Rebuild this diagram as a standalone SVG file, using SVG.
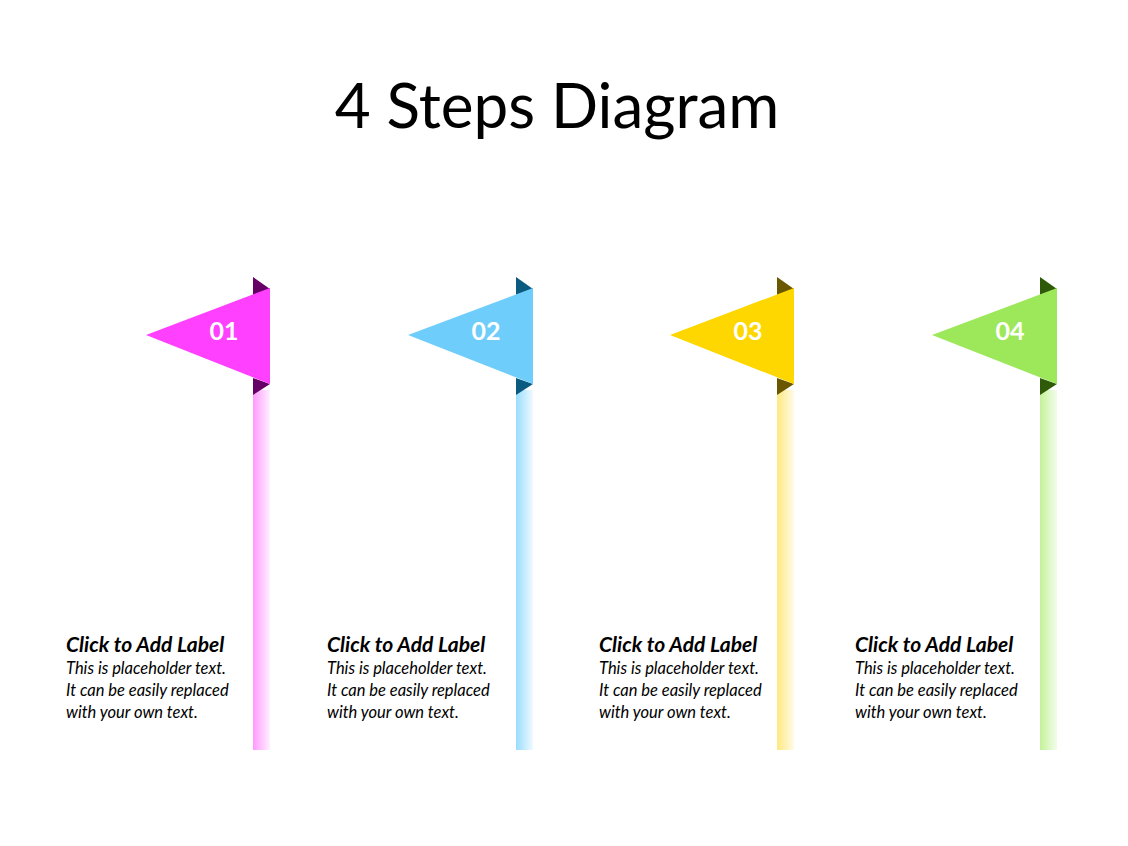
<svg xmlns="http://www.w3.org/2000/svg" width="1128" height="846" viewBox="0 0 1128 846">
<style>
.t{font-family:Lato,"Open Sans","Liberation Sans",sans-serif;fill:#000}
.h{font-size:21px;font-weight:bold;font-style:italic}
.b{font-size:16.5px;font-style:italic}
.n{font-family:Lato,"Open Sans","Liberation Sans",sans-serif;font-size:25px;font-weight:bold;fill:#fff;text-anchor:middle}
</style>
<defs>
<linearGradient id="g1"><stop offset="0" stop-color="#ff99ff"/><stop offset="1" stop-color="#fff0ff"/></linearGradient>
<linearGradient id="g2"><stop offset="0" stop-color="#99ddff"/><stop offset="1" stop-color="#effaff"/></linearGradient>
<linearGradient id="g3"><stop offset="0" stop-color="#ffe880"/><stop offset="1" stop-color="#fffbe6"/></linearGradient>
<linearGradient id="g4"><stop offset="0" stop-color="#c4f29a"/><stop offset="1" stop-color="#f3fdeb"/></linearGradient>
</defs>
<rect width="1128" height="846" fill="#fff"/>
<text x="557" y="128" text-anchor="middle" font-family="Lato,'Open Sans','Liberation Sans',sans-serif" font-size="62" fill="#000">4 Steps Diagram</text>
<g id="step1">
<rect x="253" y="390" width="17" height="360" fill="url(#g1)"/>
<polygon points="253,277 270,289 253,295" fill="#660066"/>
<polygon points="253,378 270,384 253,395" fill="#660066"/>
<polygon points="146,335 270,288 270,384" fill="#ff40ff"/>
<text class="n" x="224" y="340">01</text>
<text class="t h" x="66" y="652">Click to Add Label</text>
<text class="t b" x="66" y="674">This is placeholder text.</text>
<text class="t b" x="66" y="696">It can be easily replaced</text>
<text class="t b" x="66" y="718">with your own text.</text>
</g>
<g id="step2">
<rect x="516" y="390" width="17" height="360" fill="url(#g2)"/>
<polygon points="516,277 533,289 516,295" fill="#0b5a80"/>
<polygon points="516,378 533,384 516,395" fill="#0b5a80"/>
<polygon points="408,335 533,288 533,384" fill="#6fcdfb"/>
<text class="n" x="486" y="340">02</text>
<text class="t h" x="327" y="652">Click to Add Label</text>
<text class="t b" x="327" y="674">This is placeholder text.</text>
<text class="t b" x="327" y="696">It can be easily replaced</text>
<text class="t b" x="327" y="718">with your own text.</text>
</g>
<g id="step3">
<rect x="777" y="390" width="17" height="360" fill="url(#g3)"/>
<polygon points="777,277 794,289 777,295" fill="#6b5700"/>
<polygon points="777,378 794,384 777,395" fill="#6b5700"/>
<polygon points="670,335 794,288 794,384" fill="#ffd700"/>
<text class="n" x="748" y="340">03</text>
<text class="t h" x="599" y="652">Click to Add Label</text>
<text class="t b" x="599" y="674">This is placeholder text.</text>
<text class="t b" x="599" y="696">It can be easily replaced</text>
<text class="t b" x="599" y="718">with your own text.</text>
</g>
<g id="step4">
<rect x="1040" y="390" width="17" height="360" fill="url(#g4)"/>
<polygon points="1040,277 1057,289 1040,295" fill="#2e5a0a"/>
<polygon points="1040,378 1057,384 1040,395" fill="#2e5a0a"/>
<polygon points="932,335 1057,288 1057,384" fill="#9de85a"/>
<text class="n" x="1010" y="340">04</text>
<text class="t h" x="855" y="652">Click to Add Label</text>
<text class="t b" x="855" y="674">This is placeholder text.</text>
<text class="t b" x="855" y="696">It can be easily replaced</text>
<text class="t b" x="855" y="718">with your own text.</text>
</g>
<g id="connectors"></g>
</svg>
